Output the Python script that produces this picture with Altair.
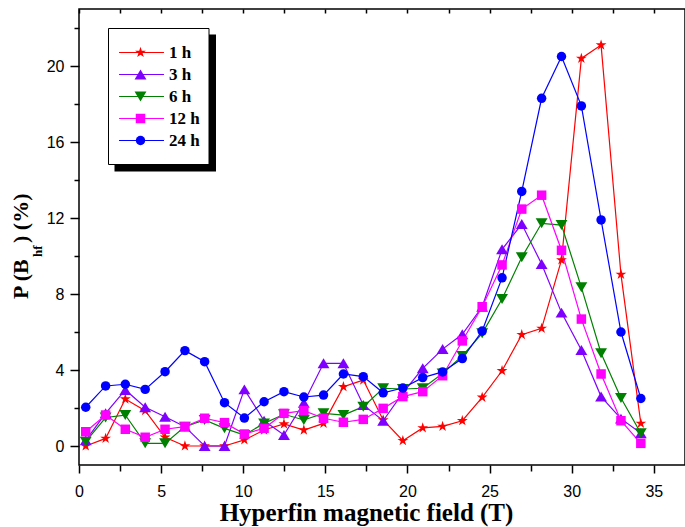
import altair as alt
import pandas as pd

# ---------------- data ----------------
field_T = [0.41, 1.62, 2.82, 4.03, 5.24, 6.45, 7.65, 8.86, 10.07, 11.27,
           12.48, 13.69, 14.89, 16.10, 17.31, 18.52, 19.72, 20.93, 22.14, 23.34,
           24.55, 25.76, 26.96, 28.17, 29.38, 30.59, 31.79, 33.00, 34.21]

p_1h = [0.0, 0.4, 2.47, 1.86, 0.46, 0.0, 0.0, 0.0, 0.32, 0.84,
        1.16, 0.84, 1.19, 3.12, 3.47, 1.37, 0.28, 0.95, 1.03, 1.33,
        2.56, 3.96, 5.86, 6.19, 9.79, 20.4, 21.1, 9.03, 1.19]
p_3h = [0.3, 1.72, 2.95, 2.04, 1.54, 1.02, 0.0, 0.0, 2.98, 1.33,
        0.58, 2.28, 4.35, 4.35, 2.16, 1.33, 2.8, 4.09, 5.1, 5.88,
        7.33, 10.35, 11.68, 9.58, 7.02, 5.05, 2.6, 1.44, 0.67]
p_6h = [0.23, 1.5, 1.63, 0.14, 0.14, 1.02, 1.37, 0.93, 0.58, 1.19,
        1.67, 1.37, 1.72, 1.63, 2.07, 3.04, 3.0, 3.04, 3.82, 4.74,
        5.93, 7.74, 9.93, 11.72, 11.63, 8.35, 4.88, 2.53, 0.67]
p_12h = [0.75, 1.63, 0.88, 0.46, 0.88, 1.02, 1.46, 1.23, 0.63, 0.93,
         1.72, 1.86, 1.46, 1.25, 1.40, 1.98, 2.6, 2.86, 3.7, 5.53,
         7.33, 9.53, 12.47, 13.2, 10.3, 6.68, 3.79, 1.33, 0.14]
p_24h = [2.04, 3.16, 3.25, 2.98, 3.91, 5.02, 4.44, 2.28, 1.47, 2.33,
         2.86, 2.58, 2.68, 3.79, 3.65, 2.8, 3.05, 3.6, 3.9, 4.6,
         6.05, 8.85, 13.4, 18.3, 20.5, 17.9, 11.9, 6.0, 2.5]

series_names = ["1 h", "3 h", "6 h", "12 h", "24 h"]
series_values = [p_1h, p_3h, p_6h, p_12h, p_24h]
series_colors = ["#FF0000", "#8000FF", "#008000", "#FF00FF", "#0000FF"]

x_major = [0, 5, 10, 15, 20, 25, 30, 35]
x_minor = [2.5, 7.5, 12.5, 17.5, 22.5, 27.5, 32.5]
x_top = [0, 2.5, 5, 7.5, 10, 12.5, 15, 17.5, 20, 22.5, 25, 27.5, 30, 32.5, 35]
y_major = [0, 4, 8, 12, 16, 20]
y_minor = [2, 6, 10, 14, 18, 22]

x_title = "Hyperfin magnetic field (T)"
y_title_main = ["P (B"]
y_title_sub = ["hf"]
y_title_end = [") (%)"]

# ---------------- styles ----------------
STAR = ("M0,-1.2L0.269,-0.371L1.141,-0.371L0.436,0.142L0.705,0.971L0,0.458"
        "L-0.705,0.971L-0.436,0.142L-1.141,-0.371L-0.269,-0.371Z")
TRI_UP = "M0,-1.05L1.25,1.05L-1.25,1.05Z"
TRI_DOWN = "M0,1.05L1.25,-1.05L-1.25,-1.05Z"
series_shapes = [STAR, TRI_UP, TRI_DOWN, "square", "circle"]
LINE_SYM = "M-4.74,0L4.74,0"

SANS = "Liberation Sans"
SERIF = "Liberation Serif"

rows = []
for name, vals in zip(series_names, series_values):
    for xv, yv in zip(field_T, vals):
        rows.append({"field": xv, "p": yv, "series": name, "line_id": "L" + name})
df = pd.DataFrame(rows)
line_ids = ["L" + n for n in series_names]

x_scale = alt.Scale(domain=[0, 36.9], nice=False, zero=False)
y_scale = alt.Scale(domain=[-1, 23], nice=False, zero=False)

LEG_X = 53
LEG_Y = 35
ROW_PAD = 4.0

leg_lines = alt.Legend(orient="none", legendX=LEG_X + 1, legendY=LEG_Y, title=None,
                       symbolType=LINE_SYM, symbolSize=90, symbolStrokeWidth=1.2,
                       labelFont=SERIF, labelFontSize=17, labelFontWeight="bold",
                       labelExpr="''", labelOffset=20, rowPadding=ROW_PAD, padding=0)
leg_points = alt.Legend(orient="none", legendX=LEG_X, legendY=LEG_Y, title=None,
                        symbolSize=90, symbolStrokeWidth=0,
                        labelFont=SERIF, labelFontSize=17, labelFontWeight="bold",
                        labelColor="black", labelOffset=20, rowPadding=ROW_PAD, padding=0)

x_main_axis = alt.Axis(orient="bottom", values=x_major, tickSize=8, tickWidth=1.5,
                       tickColor="black", domain=False, grid=False,
                       labelFont=SANS, labelFontSize=16, labelColor="black",
                       labelPadding=10, labelFlush=False, labelOverlap=False,
                       title=x_title, titleFont=SERIF, titleFontSize=25,
                       titleFontWeight="bold", titleColor="black", titlePadding=1,
                       titleX=287)
y_main_axis = alt.Axis(orient="left", values=y_major, tickSize=9, tickWidth=1.5,
                       tickColor="black", domain=False, grid=False,
                       labelFont=SANS, labelFontSize=16, labelColor="black",
                       labelPadding=6, labelFlush=False, labelOverlap=False,
                       title=None)

# legend box + shadow
one = pd.DataFrame({"a": [0]})
shadow = alt.Chart(one).mark_rect(color="black").encode(
    x=alt.value(35.5), x2=alt.value(137), y=alt.value(25.5), y2=alt.value(162.5))
box = alt.Chart(one).mark_rect(fill="white", stroke="black", strokeWidth=1).encode(
    x=alt.value(29.5), x2=alt.value(130), y=alt.value(19.5), y2=alt.value(155.5))

lines = alt.Chart(df).mark_line(strokeWidth=1.2).encode(
    x=alt.X("field:Q", scale=x_scale, axis=x_main_axis),
    y=alt.Y("p:Q", scale=y_scale, axis=y_main_axis),
    stroke=alt.Stroke("line_id:N", scale=alt.Scale(domain=line_ids, range=series_colors),
                      legend=leg_lines),
)

points = alt.Chart(df).mark_point(filled=True, opacity=1, size=90).encode(
    x=alt.X("field:Q", scale=x_scale, axis=None),
    y=alt.Y("p:Q", scale=y_scale, axis=None),
    fill=alt.Fill("series:N", scale=alt.Scale(domain=series_names, range=series_colors),
                  legend=leg_points),
    shape=alt.Shape("series:N", scale=alt.Scale(domain=series_names, range=series_shapes),
                    legend=leg_points),
)

minor = alt.Chart(df).mark_point(opacity=0).encode(
    x=alt.X("field:Q", scale=x_scale,
            axis=alt.Axis(orient="bottom", values=x_minor, tickSize=6, tickWidth=1.5,
                          tickColor="black", labels=False, domain=False, grid=False,
                          title=None)),
    y=alt.Y("p:Q", scale=y_scale,
            axis=alt.Axis(orient="left", values=y_minor, tickSize=5, tickWidth=1.5,
                          tickColor="black", labels=False, domain=False, grid=False,
                          title=None)),
)

top = alt.Chart(df).mark_point(opacity=0).encode(
    x=alt.X("field:Q", scale=x_scale,
            axis=alt.Axis(orient="top", values=x_top, tickSize=4, tickWidth=1.5,
                          tickColor="black", labels=False, domain=False, grid=False,
                          title=None, offset=-4)),
    y=alt.Y("p:Q", scale=y_scale, axis=None),
)

ytxt_style = dict(angle=270, align="left", baseline="alphabetic", font=SERIF,
                  fontWeight="bold", color="black")
yt1 = alt.Chart(pd.DataFrame({"t": y_title_main})).mark_text(fontSize=22, **ytxt_style).encode(
    x=alt.value(-51), y=alt.value(290), text="t:N")
yt2 = alt.Chart(pd.DataFrame({"t": y_title_sub})).mark_text(fontSize=13, **ytxt_style).encode(
    x=alt.value(-37), y=alt.value(248), text="t:N")
yt3 = alt.Chart(pd.DataFrame({"t": y_title_end})).mark_text(fontSize=22, **ytxt_style).encode(
    x=alt.value(-51), y=alt.value(234), text="t:N")

chart = alt.layer(shadow, box, lines, points, minor, top, yt1, yt2, yt3).resolve_axis(
    x="independent", y="independent"
).properties(
    width=606, height=456,
    autosize=alt.AutoSizeParams(type="none"),
    padding={"left": 79, "top": 9, "right": 0, "bottom": 62},
    background="white",
).configure_view(stroke="black", strokeWidth=1.5)

chart.save("out.html", embed_options={"renderer": "svg", "actions": False})
